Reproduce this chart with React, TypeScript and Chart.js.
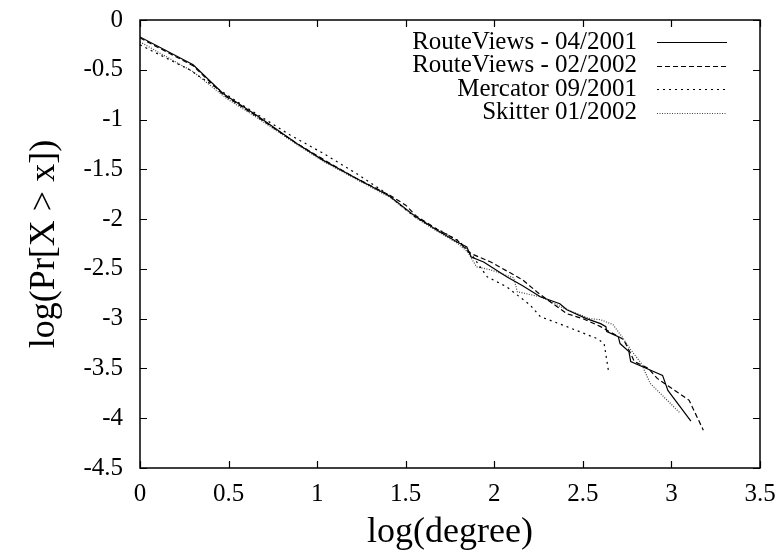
import React, { useEffect, useRef } from 'react';
import { Chart, registerables } from 'chart.js';

Chart.register(...registerables);

// ---- data (log(degree), log(Pr[X > x])) ----
const seriesLabels = ['RouteViews - 04/2001', 'RouteViews - 02/2002', 'Mercator 09/2001', 'Skitter 01/2002'];

const rv2001X = [0, 0.30, 0.47, 0.66, 0.885, 1.035, 1.22, 1.41, 1.56, 1.675, 1.79, 1.845, 1.87, 1.94, 2.07, 2.16, 2.26, 2.37, 2.41, 2.52, 2.60, 2.63, 2.635, 2.70, 2.71, 2.76, 2.77, 2.86, 2.95, 2.98, 3.11];
const rv2001Y = [-0.17, -0.45, -0.74, -0.96, -1.24, -1.41, -1.59, -1.77, -1.98, -2.11, -2.23, -2.28, -2.38, -2.43, -2.58, -2.67, -2.78, -2.85, -2.91, -3.00, -3.05, -3.08, -3.13, -3.18, -3.25, -3.33, -3.43, -3.50, -3.57, -3.72, -4.03];

const rv2002X = [0, 0.30, 0.47, 0.66, 0.885, 1.035, 1.22, 1.41, 1.50, 1.56, 1.675, 1.79, 1.86, 1.98, 2.07, 2.16, 2.24, 2.30, 2.41, 2.50, 2.60, 2.63, 2.73, 2.77, 2.79, 2.87, 2.92, 3.10, 3.18];
const rv2002Y = [-0.18, -0.46, -0.75, -0.97, -1.24, -1.40, -1.59, -1.76, -1.86, -1.97, -2.10, -2.21, -2.34, -2.43, -2.52, -2.61, -2.73, -2.81, -2.95, -3.00, -3.08, -3.11, -3.21, -3.35, -3.43, -3.50, -3.60, -3.82, -4.12];

const mercX = [0, 0.28, 0.565, 0.847, 1.035, 1.22, 1.39, 1.47, 1.56, 1.70, 1.80, 1.87, 1.92, 1.96, 2.07, 2.20, 2.26, 2.41, 2.58, 2.62, 2.645];
const mercY = [-0.25, -0.50, -0.84, -1.155, -1.34, -1.54, -1.74, -1.86, -1.99, -2.12, -2.22, -2.35, -2.48, -2.58, -2.68, -2.86, -2.98, -3.08, -3.20, -3.25, -3.53];

const skitX = [0, 0.30, 0.49, 0.66, 0.885, 1.035, 1.22, 1.41, 1.56, 1.675, 1.79, 1.85, 1.90, 1.98, 2.11, 2.13, 2.26, 2.41, 2.54, 2.60, 2.67, 2.72, 2.77, 2.83, 2.88, 3.05];
const skitY = [-0.22, -0.52, -0.79, -0.98, -1.25, -1.42, -1.60, -1.78, -1.99, -2.12, -2.24, -2.33, -2.48, -2.51, -2.59, -2.73, -2.78, -2.91, -3.00, -3.01, -3.06, -3.18, -3.31, -3.45, -3.65, -3.95];

const xTickMin = 0;
const xTickMax = 3.5;
const yTickMin = -4.5;
const yTickMax = 0;
const tickStep = 0.5;

const FONT = '"Liberation Serif", "Times New Roman", "DejaVu Serif", serif';

const toPoints = (xs: number[], ys: number[]) => xs.map((x, i) => ({ x, y: ys[i] }));

const framePlugin = {
  id: 'gnuplotFrame',
  afterDatasetsDraw(chart: any) {
    const { ctx, chartArea: a, scales } = chart;
    const tl = 7;
    ctx.save();
    ctx.strokeStyle = '#000';
    ctx.lineWidth = 1.5;
    ctx.setLineDash([]);
    ctx.strokeRect(a.left, a.top, a.right - a.left, a.bottom - a.top);
    ctx.lineWidth = 1.2;
    ctx.beginPath();
    scales.x.ticks.forEach((t: any) => {
      const px = Math.round(scales.x.getPixelForValue(t.value)) + 0.5;
      ctx.moveTo(px, a.bottom); ctx.lineTo(px, a.bottom - tl);
      ctx.moveTo(px, a.top); ctx.lineTo(px, a.top + tl);
    });
    scales.y.ticks.forEach((t: any) => {
      const py = Math.round(scales.y.getPixelForValue(t.value)) + 0.5;
      ctx.moveTo(a.left, py); ctx.lineTo(a.left + tl, py);
      ctx.moveTo(a.right, py); ctx.lineTo(a.right - tl, py);
    });
    ctx.stroke();
    ctx.restore();
  },
};

const legendPlugin = {
  id: 'gnuplotLegend',
  afterDraw(chart: any) {
    const { ctx, chartArea: a } = chart;
    ctx.save();
    ctx.font = `25px ${FONT}`;
    ctx.textAlign = 'right';
    ctx.textBaseline = 'middle';
    chart.data.datasets.forEach((ds: any, i: number) => {
      const y = a.top + 22 + i * 23.5;
      ctx.fillStyle = '#000';
      ctx.fillText(ds.label, a.right - 123, y);
      ctx.strokeStyle = ds.borderColor;
      ctx.lineWidth = ds.borderWidth;
      ctx.setLineDash(ds.borderDash || []);
      ctx.beginPath();
      ctx.moveTo(a.right - 103, Math.round(y) + 0.5);
      ctx.lineTo(a.right - 33, Math.round(y) + 0.5);
      ctx.stroke();
    });
    ctx.restore();
  },
};

export default function App() {
  const ref = useRef<HTMLCanvasElement | null>(null);

  useEffect(() => {
    if (!ref.current) return;
    const chart = new Chart(ref.current, {
      type: 'line',
      data: {
        datasets: [
          { label: seriesLabels[0], data: toPoints(rv2001X, rv2001Y), borderColor: '#000', borderWidth: 1.2, borderDash: [] },
          { label: seriesLabels[1], data: toPoints(rv2002X, rv2002Y), borderColor: '#000', borderWidth: 1.2, borderDash: [5, 3] },
          { label: seriesLabels[2], data: toPoints(mercX, mercY), borderColor: '#000', borderWidth: 1.2, borderDash: [2, 4] },
          { label: seriesLabels[3], data: toPoints(skitX, skitY), borderColor: '#444', borderWidth: 1.2, borderDash: [1, 1.5] },
        ] as any,
      },
      options: {
        animation: false,
        responsive: true,
        maintainAspectRatio: false,
        parsing: false as any,
        elements: { point: { radius: 0 }, line: { tension: 0 } },
        layout: { padding: { top: 20, right: 19, bottom: 0, left: 0 } },
        plugins: { legend: { display: false }, tooltip: { enabled: false } },
        scales: {
          x: {
            type: 'linear',
            min: xTickMin,
            max: xTickMax,
            grid: { display: false, drawTicks: false },
            border: { display: false },
            ticks: {
              stepSize: tickStep,
              color: '#000',
              padding: 11,
              font: { family: FONT, size: 25 },
              callback: (v: any) => String(v),
            },
            title: {
              display: true,
              text: 'log(degree)',
              color: '#000',
              font: { family: FONT, size: 36, lineHeight: 1 },
              padding: { top: 0, bottom: 1 },
            },
            afterFit: (s: any) => { s.height = 84; s.paddingLeft = 0; s.paddingRight = 0; },
          },
          y: {
            type: 'linear',
            min: yTickMin,
            max: yTickMax,
            grid: { display: false, drawTicks: false },
            border: { display: false },
            ticks: {
              stepSize: tickStep,
              color: '#000',
              padding: 17,
              font: { family: FONT, size: 25 },
              callback: (v: any) => String(v),
            },
            title: {
              display: true,
              text: 'log(Pr[X > x])',
              color: '#000',
              font: { family: FONT, size: 36, lineHeight: 1 },
              padding: { top: 27, bottom: 0 },
            },
            afterFit: (s: any) => { s.width = 140; s.paddingTop = 0; s.paddingBottom = 0; },
          },
        },
      } as any,
      plugins: [framePlugin, legendPlugin],
    });
    return () => chart.destroy();
  }, []);

  return (
    <div style={{ position: 'fixed', left: 0, top: 0, width: 779, height: 552, background: '#fff' }}>
      <canvas ref={ref} />
    </div>
  );
}
